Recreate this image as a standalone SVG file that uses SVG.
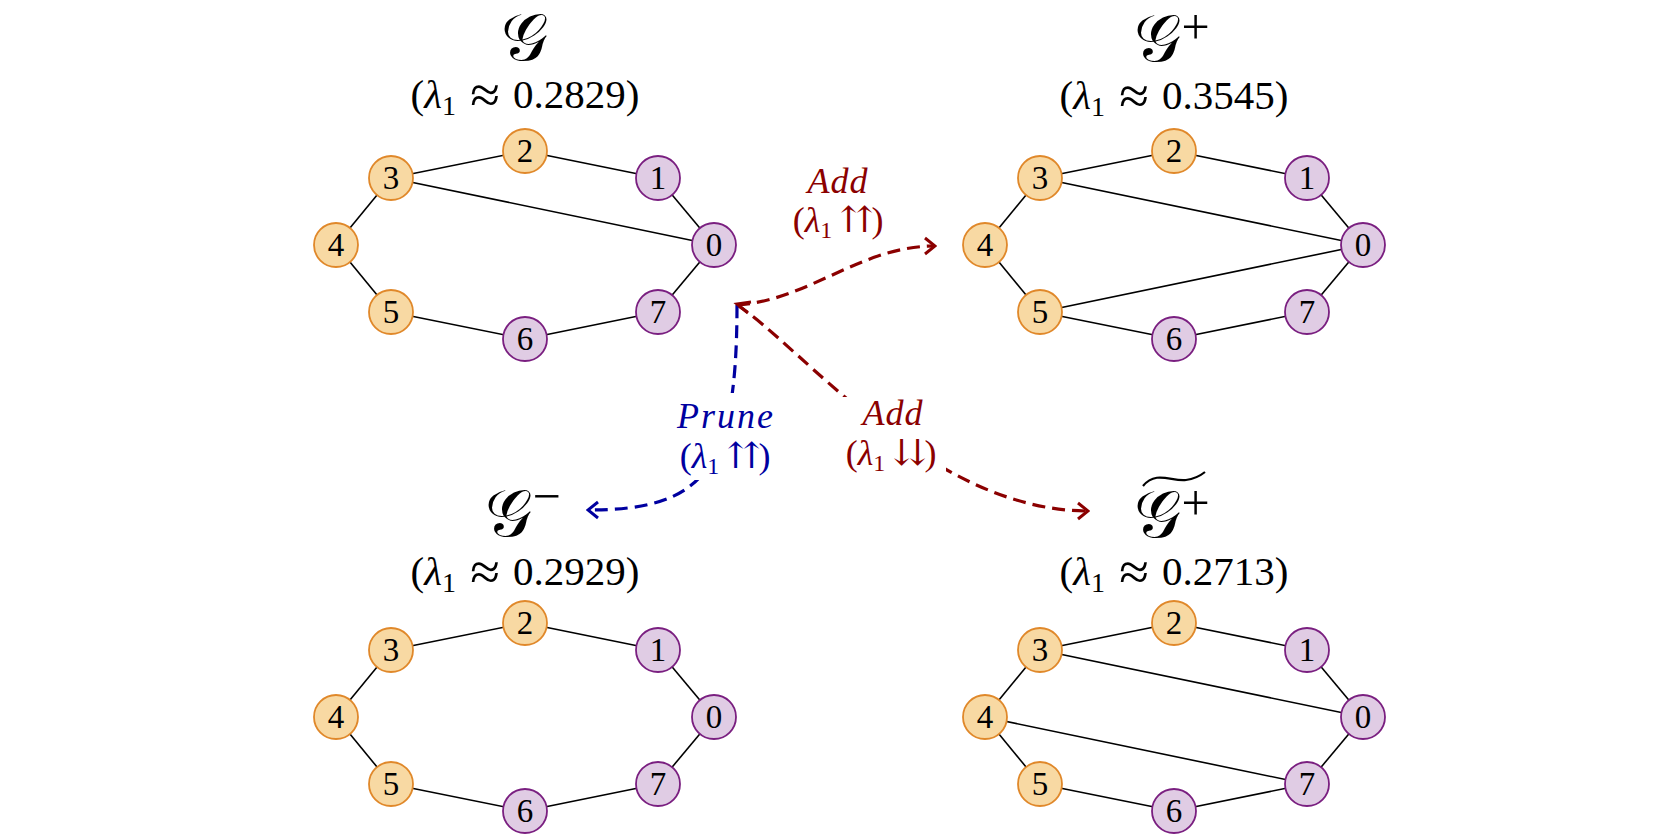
<svg xmlns="http://www.w3.org/2000/svg" width="1672" height="836" viewBox="0 0 1672 836">
<style>
.o circle{fill:#F8D9A3;stroke:#E0882A;stroke-width:1.8}
.p circle{fill:#E0CCE4;stroke:#7A1F80;stroke-width:1.8}
.node text{font-family:"Liberation Serif","DejaVu Serif",serif;font-size:33px;text-anchor:middle;fill:#000}
.edge line{stroke:#000;stroke-width:1.6}
.lam{font-family:"Liberation Serif","DejaVu Serif",serif;font-size:41px;text-anchor:middle;fill:#000}
.ap{font-size:54px}
.cal{font-family:"DejaVu Sans","Noto Sans",serif;font-size:66px;text-anchor:middle;fill:#000}
.sup{font-family:"Liberation Serif","DejaVu Serif",serif;font-size:50px}
.lbl{font-family:"Liberation Serif","DejaVu Serif","DejaVu Sans",serif;font-size:36px;text-anchor:middle}
.red{fill:#8B0000}
.blue{fill:#0000A0}
.dr{fill:none;stroke:#8B0000;stroke-width:3.2;stroke-dasharray:13 7}
.db{fill:none;stroke:#0000A0;stroke-width:3.2;stroke-dasharray:13 7}
</style>
<defs>
<marker id="hr" viewBox="-12 -10 14 20" refX="0" refY="0" markerWidth="14" markerHeight="20" markerUnits="userSpaceOnUse" orient="auto"><path d="M-10,-8 L0,0 L-10,8" fill="none" stroke="#8B0000" stroke-width="3"/></marker>
<marker id="hb" viewBox="-12 -10 14 20" refX="0" refY="0" markerWidth="14" markerHeight="20" markerUnits="userSpaceOnUse" orient="auto"><path d="M-10,-8 L0,0 L-10,8" fill="none" stroke="#0000A0" stroke-width="3"/></marker>
</defs>
<rect width="1672" height="836" fill="#fff"/>

<g id="connectors">
 <g class="edge" transform="translate(525,245)">
  <line x1="189" y1="0" x2="133" y2="-67"/><line x1="133" y1="-67" x2="0" y2="-94"/><line x1="0" y1="-94" x2="-134" y2="-67"/><line x1="-134" y1="-67" x2="-189" y2="0"/><line x1="-189" y1="0" x2="-134" y2="67"/><line x1="-134" y1="67" x2="0" y2="94"/><line x1="0" y1="94" x2="133" y2="67"/><line x1="133" y1="67" x2="189" y2="0"/>
  <line x1="-134" y1="-67" x2="189" y2="0"/>
 </g>
 <g class="edge" transform="translate(1174,245)">
  <line x1="189" y1="0" x2="133" y2="-67"/><line x1="133" y1="-67" x2="0" y2="-94"/><line x1="0" y1="-94" x2="-134" y2="-67"/><line x1="-134" y1="-67" x2="-189" y2="0"/><line x1="-189" y1="0" x2="-134" y2="67"/><line x1="-134" y1="67" x2="0" y2="94"/><line x1="0" y1="94" x2="133" y2="67"/><line x1="133" y1="67" x2="189" y2="0"/>
  <line x1="-134" y1="-67" x2="189" y2="0"/><line x1="-134" y1="67" x2="189" y2="0"/>
 </g>
 <g class="edge" transform="translate(525,717)">
  <line x1="189" y1="0" x2="133" y2="-67"/><line x1="133" y1="-67" x2="0" y2="-94"/><line x1="0" y1="-94" x2="-134" y2="-67"/><line x1="-134" y1="-67" x2="-189" y2="0"/><line x1="-189" y1="0" x2="-134" y2="67"/><line x1="-134" y1="67" x2="0" y2="94"/><line x1="0" y1="94" x2="133" y2="67"/><line x1="133" y1="67" x2="189" y2="0"/>
 </g>
 <g class="edge" transform="translate(1174,717)">
  <line x1="189" y1="0" x2="133" y2="-67"/><line x1="133" y1="-67" x2="0" y2="-94"/><line x1="0" y1="-94" x2="-134" y2="-67"/><line x1="-134" y1="-67" x2="-189" y2="0"/><line x1="-189" y1="0" x2="-134" y2="67"/><line x1="-134" y1="67" x2="0" y2="94"/><line x1="0" y1="94" x2="133" y2="67"/><line x1="133" y1="67" x2="189" y2="0"/>
  <line x1="-134" y1="-67" x2="189" y2="0"/><line x1="-189" y1="0" x2="133" y2="67"/>
 </g>
 <g id="arrows">
  <path class="dr" d="M737,305 C810,300 860,246 935,246" marker-end="url(#hr)"/>
  <path class="dr" d="M737,305 C800,345 930,511 1088,511" marker-end="url(#hr)"/>
  <path class="db" d="M737,305 C737,470 705,510 588,510" marker-end="url(#hb)"/>
  <path d="M751,302 L737,304 L748,313" fill="none" stroke="#8B0000" stroke-width="3"/>
 </g>
</g>

<g id="graph-G" transform="translate(525,245)">
 <g id="G-n0" class="node p"><circle cx="189" cy="0" r="22"/><text x="189" y="11">0</text></g>
 <g id="G-n1" class="node p"><circle cx="133" cy="-67" r="22"/><text x="133" y="-56">1</text></g>
 <g id="G-n2" class="node o"><circle cx="0" cy="-94" r="22"/><text x="0" y="-83">2</text></g>
 <g id="G-n3" class="node o"><circle cx="-134" cy="-67" r="22"/><text x="-134" y="-56">3</text></g>
 <g id="G-n4" class="node o"><circle cx="-189" cy="0" r="22"/><text x="-189" y="11">4</text></g>
 <g id="G-n5" class="node o"><circle cx="-134" cy="67" r="22"/><text x="-134" y="78">5</text></g>
 <g id="G-n6" class="node p"><circle cx="0" cy="94" r="22"/><text x="0" y="105">6</text></g>
 <g id="G-n7" class="node p"><circle cx="133" cy="67" r="22"/><text x="133" y="78">7</text></g>
</g>
<g id="graph-Gplus" transform="translate(1174,245)">
 <g id="Gp-n0" class="node p"><circle cx="189" cy="0" r="22"/><text x="189" y="11">0</text></g>
 <g id="Gp-n1" class="node p"><circle cx="133" cy="-67" r="22"/><text x="133" y="-56">1</text></g>
 <g id="Gp-n2" class="node o"><circle cx="0" cy="-94" r="22"/><text x="0" y="-83">2</text></g>
 <g id="Gp-n3" class="node o"><circle cx="-134" cy="-67" r="22"/><text x="-134" y="-56">3</text></g>
 <g id="Gp-n4" class="node o"><circle cx="-189" cy="0" r="22"/><text x="-189" y="11">4</text></g>
 <g id="Gp-n5" class="node o"><circle cx="-134" cy="67" r="22"/><text x="-134" y="78">5</text></g>
 <g id="Gp-n6" class="node p"><circle cx="0" cy="94" r="22"/><text x="0" y="105">6</text></g>
 <g id="Gp-n7" class="node p"><circle cx="133" cy="67" r="22"/><text x="133" y="78">7</text></g>
</g>
<g id="graph-Gminus" transform="translate(525,717)">
 <g id="Gm-n0" class="node p"><circle cx="189" cy="0" r="22"/><text x="189" y="11">0</text></g>
 <g id="Gm-n1" class="node p"><circle cx="133" cy="-67" r="22"/><text x="133" y="-56">1</text></g>
 <g id="Gm-n2" class="node o"><circle cx="0" cy="-94" r="22"/><text x="0" y="-83">2</text></g>
 <g id="Gm-n3" class="node o"><circle cx="-134" cy="-67" r="22"/><text x="-134" y="-56">3</text></g>
 <g id="Gm-n4" class="node o"><circle cx="-189" cy="0" r="22"/><text x="-189" y="11">4</text></g>
 <g id="Gm-n5" class="node o"><circle cx="-134" cy="67" r="22"/><text x="-134" y="78">5</text></g>
 <g id="Gm-n6" class="node p"><circle cx="0" cy="94" r="22"/><text x="0" y="105">6</text></g>
 <g id="Gm-n7" class="node p"><circle cx="133" cy="67" r="22"/><text x="133" y="78">7</text></g>
</g>
<g id="graph-Gtilde" transform="translate(1174,717)">
 <g id="Gt-n0" class="node p"><circle cx="189" cy="0" r="22"/><text x="189" y="11">0</text></g>
 <g id="Gt-n1" class="node p"><circle cx="133" cy="-67" r="22"/><text x="133" y="-56">1</text></g>
 <g id="Gt-n2" class="node o"><circle cx="0" cy="-94" r="22"/><text x="0" y="-83">2</text></g>
 <g id="Gt-n3" class="node o"><circle cx="-134" cy="-67" r="22"/><text x="-134" y="-56">3</text></g>
 <g id="Gt-n4" class="node o"><circle cx="-189" cy="0" r="22"/><text x="-189" y="11">4</text></g>
 <g id="Gt-n5" class="node o"><circle cx="-134" cy="67" r="22"/><text x="-134" y="78">5</text></g>
 <g id="Gt-n6" class="node p"><circle cx="0" cy="94" r="22"/><text x="0" y="105">6</text></g>
 <g id="Gt-n7" class="node p"><circle cx="133" cy="67" r="22"/><text x="133" y="78">7</text></g>
</g>

<g id="titles">
 <text class="cal" x="524" y="60">𝒢</text>
 <text class="lam" x="525" y="108">(<tspan font-style="italic">λ</tspan><tspan font-size="28" dy="7">1</tspan><tspan dy="-7"> </tspan><tspan class="ap" dx="4" dy="5">≈</tspan><tspan dx="3" dy="-5"> 0.2829)</tspan></text>
 <text class="cal" x="1172" y="61">𝒢<tspan class="sup" dy="-17">+</tspan></text>
 <text class="lam" x="1174" y="109">(<tspan font-style="italic">λ</tspan><tspan font-size="28" dy="7">1</tspan><tspan dy="-7"> </tspan><tspan class="ap" dx="4" dy="5">≈</tspan><tspan dx="3" dy="-5"> 0.3545)</tspan></text>
 <text class="cal" x="523" y="536">𝒢<tspan class="sup" dy="-23">−</tspan></text>
 <text class="lam" x="525" y="585">(<tspan font-style="italic">λ</tspan><tspan font-size="28" dy="7">1</tspan><tspan dy="-7"> </tspan><tspan class="ap" dx="4" dy="5">≈</tspan><tspan dx="3" dy="-5"> 0.2929)</tspan></text>
 <path d="M1143,486 C1156,470 1172,482 1186,480 C1194,479 1200,476 1205,472" fill="none" stroke="#000" stroke-width="2.2"/>
 <text class="cal" x="1172" y="537">𝒢<tspan class="sup" dy="-17">+</tspan></text>
 <text class="lam" x="1174" y="585">(<tspan font-style="italic">λ</tspan><tspan font-size="28" dy="7">1</tspan><tspan dy="-7"> </tspan><tspan class="ap" dx="4" dy="5">≈</tspan><tspan dx="3" dy="-5"> 0.2713)</tspan></text>
</g>

<g id="labels">
 <g id="lbl-add-up">
  <text class="lbl red" x="838" y="193" font-style="italic" letter-spacing="1">Add</text>
  <text class="lbl red" x="838" y="232">(<tspan font-style="italic">λ</tspan><tspan font-size="24" dy="6">1</tspan><tspan dy="-6"> ⇈)</tspan></text>
 </g>
 <g id="lbl-prune">
  <rect x="668" y="393" width="116" height="87" fill="#fff"/>
  <text class="lbl blue" x="726" y="428" font-style="italic" letter-spacing="2">Prune</text>
  <text class="lbl blue" x="725" y="468">(<tspan font-style="italic">λ</tspan><tspan font-size="24" dy="6">1</tspan><tspan dy="-6"> ⇈)</tspan></text>
 </g>
 <g id="lbl-add-down">
  <rect x="840" y="397" width="106" height="82" fill="#fff"/>
  <text class="lbl red" x="893" y="425" font-style="italic" letter-spacing="1">Add</text>
  <text class="lbl red" x="891" y="465">(<tspan font-style="italic">λ</tspan><tspan font-size="24" dy="6">1</tspan><tspan dy="-6"> ⇊)</tspan></text>
 </g>
</g>
</svg>
